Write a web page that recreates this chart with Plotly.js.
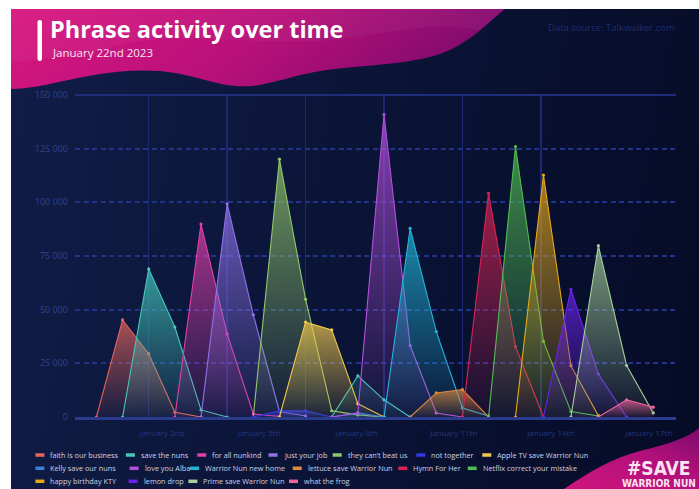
<!DOCTYPE html>
<html><head><meta charset="utf-8">
<script src="https://cdn.plot.ly/plotly-3.0.1.min.js"></script>
<style>
html,body{margin:0;padding:0;background:#fff;}
#wrap{position:relative;width:699px;height:489px;overflow:hidden;}
#card{position:absolute;left:11px;top:9px;width:688px;height:480px;background:linear-gradient(100deg,#111d47 0%,#0b1538 45%,#060b26 100%);}
#deco{position:absolute;left:0;top:0;}
#chart{position:absolute;left:0;top:0;width:699px;height:489px;}
</style></head>
<body><div id="wrap"><div id="card"></div>
<svg id="deco" width="699" height="489" xmlns="http://www.w3.org/2000/svg">
<defs>
<linearGradient id="pk" x1="0" y1="0" x2="1" y2="0.2">
<stop offset="0" stop-color="#d9177f"/><stop offset="0.55" stop-color="#b9107a"/><stop offset="1" stop-color="#820b6e"/>
</linearGradient>
<linearGradient id="pk2" x1="0" y1="1" x2="1" y2="0">
<stop offset="0" stop-color="#d0157d"/><stop offset="0.6" stop-color="#b0107a"/><stop offset="1" stop-color="#7a0b6c"/>
</linearGradient>
</defs>
<path d="M11,9 H505 C488,22 472,42 440,54 C400,67 350,64 305,74 C275,81 258,88 236,86 C212,84 192,74 160,71 C120,68 80,77 45,85 C28,88 18,89 11,89 Z" fill="url(#pk)"/>
<path d="M11,9 H505 C495,16 488,24 480,30 C430,20 380,35 330,40 C260,47 180,30 120,45 C80,55 40,60 11,62 Z" fill="#ffffff" opacity="0.04"/>
<rect x="37.5" y="20" width="4.5" height="41" rx="2.2" fill="#ffffff"/>
<path d="M564,489 C588,473 610,459 640,451 C665,445 688,438 699,428 L699,489 Z" fill="url(#pk2)"/>
</svg>
<div id="chart"></div></div>
<script>
const _ = null;
// time positions of the samples (grid units: vertical grid every 3 samples)
const timeline = [1,2,3,4,5,6,7,8,9,10,11,12,13,14,15,16,17.03,18.1,19.15,20.2,21.28,22.3];
const gridTicks = [3,6,9,12,15,18];
const dateLabelPos = [3.51,7.22,10.95,14.67,18.38,22.12];
const dateLabels = ['January 2nd','January 5th','January 8th','January 11th','January 14th','January 17th'];
const yTicks = [0,25000,50000,75000,100000,125000,150000];

const seriesNames = ['faith is our business','save the nuns','for all nunkind','just your job','they can\u2019t beat us','not together','Apple TV save Warrior Nun','Kelly save our nuns','love you Alba','Warrior Nun new home','lettuce save Warrior Nun','Hymn For Her','Netflix correct your mistake','happy birthday KTY','lemon drop','Prime save Warrior Nun','what the frog'];
const seriesColors = ['#e5645c','#45c9b9','#e33fab','#8f72e8','#93c86a','#3038e6','#f2c94c','#3b82d6','#b44fdc','#22b5d8','#df8a3e','#dc2454','#52bd52','#e6a817','#6a22ea','#a5cf9b','#f2649a'];

const faith        = [0,45200,29500,2200,0,_,_,_,_,_,_,_,_,_,_,_,_,_,_,_,_,_];
const saveTheNuns  = [_,0,69000,41900,3300,0,_,_,_,0,19200,8000,0,_,_,_,_,_,_,_,_,_];
const forAllNunkind= [_,_,_,0,89900,38700,1400,300,_,_,_,_,_,_,_,_,_,_,_,_,_,_];
const justYourJob  = [_,_,_,_,0,99300,47600,2600,500,_,_,_,_,_,_,_,_,_,_,_,_,_];
const theyCantBeat = [_,_,_,_,_,_,0,120100,54900,2900,1000,0,_,_,_,_,_,_,_,_,_,_];
const notTogether  = [_,_,_,_,_,_,0,2900,2900,0,_,_,_,_,_,_,_,_,_,_,_,_];
const appleTV      = [_,_,_,_,_,_,_,0,44200,40600,6200,0,_,_,_,_,_,_,_,_,_,_];
const kelly        = [_,_,_,_,_,_,_,_,_,0,2000,0,_,_,_,_,_,_,_,_,_,_];
const loveYouAlba  = [_,_,_,_,_,_,_,_,_,0,1900,140900,33300,1900,0,_,_,_,_,_,_,_];
const newHome      = [_,_,_,_,_,_,_,_,_,_,_,0,87900,39800,4200,500,_,_,_,_,_,_];
const lettuce      = [_,_,_,_,_,_,_,_,_,_,_,_,0,11200,12800,0,_,_,_,_,_,_];
const hymnForHer   = [_,_,_,_,_,_,_,_,_,_,_,_,_,_,0,104200,32800,0,_,_,_,_];
const netflix      = [_,_,_,_,_,_,_,_,_,_,_,_,_,_,_,0,126000,35200,2600,500,_,_];
const birthdayKTY  = [_,_,_,_,_,_,_,_,_,_,_,_,_,_,_,_,0,112700,23900,600,_,_];
const lemonDrop    = [_,_,_,_,_,_,_,_,_,_,_,_,_,_,_,_,_,0,59500,20000,0,_];
const primeSave    = [_,_,_,_,_,_,_,_,_,_,_,_,_,_,_,_,_,_,0,79800,24000,1900];
const whatTheFrog  = [_,_,_,_,_,_,_,_,_,_,_,_,_,_,_,_,_,_,_,0,8000,4600];

const seriesValues = [faith,saveTheNuns,forAllNunkind,justYourJob,theyCantBeat,notTogether,appleTV,kelly,loveYouAlba,newHome,lettuce,hymnForHer,netflix,birthdayKTY,lemonDrop,primeSave,whatTheFrog];

// legend layout (pixel positions of the entry texts, by row)
const legendRows = [[0,1,2,3,4,5,6],[7,8,9,10,11,12],[13,14,15,16]];
const legendTextX = [[50.4,140.9,212.2,283.5,347.7,431.3,497.3],[50.4,144.6,205.1,307.7,413.3,482.7],[50.4,143.6,203.4,304]];
const legendRowY = [455,468.3,481.3];

const M = {l:75,r:23,t:95,b:72};
const W = 699, H = 489;
const pw = W - M.l - M.r, ph = H - M.t - M.b;
const px = x => (x - M.l) / pw;
const py = y => (H - M.b - y) / ph;
const FONT = 'Open Sans, Lato, sans-serif';

function rgba(hex,a){const n=parseInt(hex.slice(1),16);return 'rgba('+(n>>16&255)+','+(n>>8&255)+','+(n&255)+','+a+')';}

const traces = seriesNames.map((name,i)=>({
  type:'scatter', x: timeline, y: seriesValues[i], name: name,
  mode:'lines+markers', line:{color:seriesColors[i], width:1.1},
  marker:{size:3.2, color:seriesColors[i]},
  fill:'tozeroy',
  fillgradient:{type:'vertical', colorscale:[[0, rgba(seriesColors[i],0.04)],[1, rgba(seriesColors[i],0.72)]]},
  connectgaps:false, hoverinfo:'skip', showlegend:false
}));
traces.push({type:'scatter', x:[dateLabelPos[0]], y:[null], xaxis:'x2', yaxis:'y', mode:'markers', showlegend:false, hoverinfo:'skip'});

const shapes = [{type:'line', xref:'paper', yref:'paper', x0:0, x1:1, y0:1, y1:1, line:{color:'#1f2d7a', width:2}}];
const annotations = [
  {text:'January 22nd 2023', xref:'paper', yref:'paper', x:px(50), y:py(52.5), xanchor:'left', yanchor:'middle', showarrow:false, font:{family:FONT, size:11.5, color:'#f8e6f0'}},
  {text:'Data source: Talkwalker.com', xref:'paper', yref:'paper', x:px(677), y:py(27), xanchor:'right', yanchor:'middle', showarrow:false, font:{family:FONT, size:9.5, color:'#1e2c70'}},
  {text:'#SAVE', xref:'paper', yref:'paper', x:px(659), y:py(468), xanchor:'center', yanchor:'middle', showarrow:false, font:{family:'DejaVu Sans Condensed, DejaVu Sans', size:19, weight:700, color:'#fbe4f0'}},
  {text:'WARRIOR NUN', xref:'paper', yref:'paper', x:px(659), y:py(483), xanchor:'center', yanchor:'middle', showarrow:false, font:{family:'DejaVu Sans Condensed, DejaVu Sans', size:10, weight:700, color:'#fbe4f0'}}
];
legendRows.forEach((row,r)=>{
  row.forEach((si,k)=>{
    const tx = legendTextX[r][k], ty = legendRowY[r];
    shapes.push({type:'line', xref:'paper', yref:'paper', x0:px(tx-15), x1:px(tx-6), y0:py(ty), y1:py(ty), line:{color:seriesColors[si], width:3.5}});
    annotations.push({text:seriesNames[si], xref:'paper', yref:'paper', x:px(tx-2), y:py(ty), xanchor:'left', yanchor:'middle', showarrow:false, font:{family:FONT, size:7.3, color:'#cfd2e6'}});
  });
});

const layout = {
  width:W, height:H, margin:M,
  paper_bgcolor:'rgba(0,0,0,0)', plot_bgcolor:'rgba(0,0,0,0)',
  separators:'. ',
  title:{text:'Phrase activity over time', font:{family:FONT, size:23.5, weight:700, color:'#ffffff'}, x:50/W, xanchor:'left', xref:'container', y:1-29.5/H, yref:'container', yanchor:'middle'},
  xaxis:{range:[0.18,23.17], tickvals:gridTicks, showticklabels:false, ticks:'', showgrid:true, gridcolor:'#1c2870', gridwidth:1.5, showline:true, linecolor:'#2b3c8e', linewidth:3, zeroline:false, fixedrange:true},
  xaxis2:{overlaying:'x', anchor:'y', side:'bottom', range:[0.18,23.17], tickvals:dateLabelPos, ticktext:dateLabels, showgrid:false, showline:false, zeroline:false, ticks:'', ticklabelstandoff:10, tickfont:{family:FONT, size:8, color:'#25357c'}},
  yaxis:{range:[0,150000], tickvals:yTicks, tickformat:',d', showgrid:true, gridcolor:'#22348a', gridwidth:1.8, griddash:'5px,3.5px', zeroline:false, showline:false, ticks:'', ticklabelstandoff:6, tickfont:{family:FONT, size:9, color:'#30428f'}},
  shapes:shapes, annotations:annotations, showlegend:false
};
Plotly.newPlot('chart', traces, layout, {displayModeBar:false, staticPlot:true});
</script>
</body></html>
